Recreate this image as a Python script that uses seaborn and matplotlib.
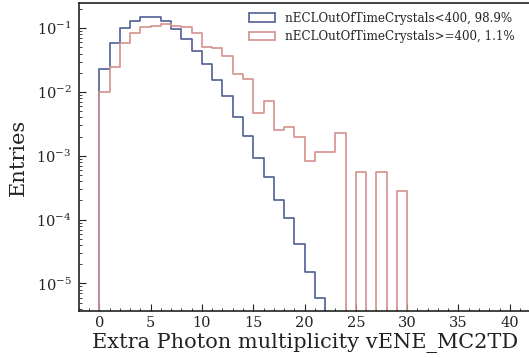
import numpy as np
import pandas as pd
import matplotlib
matplotlib.use("Agg")
import matplotlib.pyplot as plt
import matplotlib.patches as mpatches
import seaborn as sns

# Normalised entries per unit-wide multiplicity bin (bin i covers [i, i+1))
low_ootc = [0.0231, 0.0583, 0.100, 0.131, 0.150, 0.150, 0.130, 0.0975, 0.068,
            0.0447, 0.0277, 0.0152, 0.00865, 0.00407, 0.00208, 9.1e-4, 4.6e-4,
            2.03e-4, 1.05e-4, 4.1e-5, 1.49e-5, 6.0e-6]
high_ootc = [0.0099, 0.025, 0.0595, 0.0835, 0.104, 0.109, 0.1156, 0.109, 0.106,
             0.0835, 0.0515, 0.0486, 0.0367, 0.0192, 0.0162, 0.00477, 0.0073,
             0.00254, 0.0028, 0.00195, 8.4e-4, 1.14e-3, 1.14e-3, 2.25e-3,
             0.0, 5.5e-4, 0.0, 5.5e-4, 0.0, 2.8e-4]

labels = ["nECLOutOfTimeCrystals<400, 98.9%", "nECLOutOfTimeCrystals>=400, 1.1%"]
colors = ["#4f5f96", "#d4918e"]
xlabel = "Extra Photon multiplicity vENE_MC2TD"
ylabel = "Entries"

sns.set_style("white")
plt.rcParams["font.family"] = ["DejaVu Serif"]
plt.rcParams["mathtext.fontset"] = "dejavuserif"

fig = plt.figure(figsize=(5.29, 3.58), dpi=100)
# the axes run slightly past the right edge of the canvas
ax = fig.add_axes([0.1484, 0.131, 0.855, 0.8598])

for vals, col in zip([low_ootc, high_ootc], colors):
    n = len(vals)
    df = pd.DataFrame({"mult": np.arange(n) + 0.5, "w": vals})
    sns.histplot(data=df, x="mult", weights="w", binwidth=1, binrange=(-1, 33),
                 element="step", fill=False, color=col, linewidth=1.2, ax=ax)

ax.set_yscale("log", nonpositive="clip")
ax.set_xlim(-2.03, 42.05)
ax.set_ylim(3.68e-6, 0.2466)
ax.set_xticks(np.arange(0, 45, 5))
ax.xaxis.set_minor_locator(matplotlib.ticker.MultipleLocator(1))
ax.tick_params(which="both", direction="in", left=True, bottom=True,
               top=False, right=False, labelsize=10.5, colors="#222222")
ax.tick_params(which="major", length=5, width=0.8)
ax.tick_params(which="minor", length=2.5, width=0.6)
ax.tick_params(axis="y", which="major", pad=5)

for s in ax.spines.values():
    s.set_color("#222222")
    s.set_linewidth(1.2)
ax.spines["right"].set_visible(False)

ax.set_xlabel(xlabel, fontsize=15, color="#222222", labelpad=2)
ax.set_ylabel(ylabel, fontsize=15, color="#222222", labelpad=6)

handles = [mpatches.Patch(facecolor="none", edgecolor=c, linewidth=1.2) for c in colors]
ax.legend(handles, labels, loc="upper right", bbox_to_anchor=(0.985, 1.004),
          frameon=False, fontsize=8.6, handlelength=2.2, handleheight=0.7,
          labelspacing=0.45, handletextpad=0.8, borderaxespad=0.4)

fig.savefig("out.png", dpi=100)
